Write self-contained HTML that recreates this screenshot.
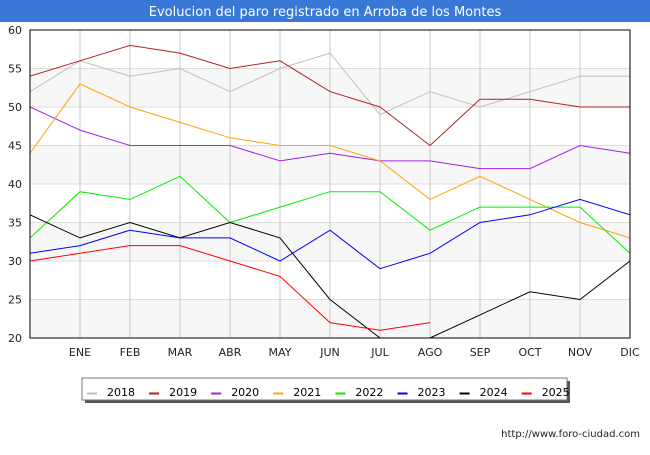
<!DOCTYPE html>
<html><head><meta charset="utf-8"><style>
body{margin:0;background:#fff;font-family:"Liberation Sans","DejaVu Sans",sans-serif}
svg text{font-family:"DejaVu Sans","Liberation Sans",sans-serif}
</style></head><body>
<svg id="chart" width="650" height="450" xmlns="http://www.w3.org/2000/svg">
<rect x="0" y="0" width="650" height="450" fill="#fff"/>
<rect x="0" y="0" width="650" height="22" fill="#3a78d8"/>
<text x="325" y="16" text-anchor="middle" fill="#fff" font-size="13">Evolucion del paro registrado en Arroba de los Montes</text>
<g id="plot"></g>
<text x="640" y="437" text-anchor="end" font-size="10" fill="#222">http://www.foro-ciudad.com</text>
</svg>
<script>
const months=["","ENE","FEB","MAR","ABR","MAY","JUN","JUL","AGO","SEP","OCT","NOV","DIC"];
const yTicks=[20,25,30,35,40,45,50,55,60];
const years=["2018","2019","2020","2021","2022","2023","2024","2025"];
const colors=["#c0c0c0","#b22222","#a020f0","#ffa500","#00ee00","#0000ff","#000000","#ff0000"];
const s2018=[52,56,54,55,52,55,57,49,52,50,52,54,54];
const s2019=[54,56,58,57,55,56,52,50,45,51,51,50,50];
const s2020=[50,47,45,45,45,43,44,43,43,42,42,45,44];
const s2021=[44,53,50,48,46,45,45,43,38,41,38,35,33];
const s2022=[33,39,38,41,35,37,39,39,34,37,37,37,31];
const s2023=[31,32,34,33,33,30,34,29,31,35,36,38,36];
const s2024=[36,33,35,33,35,33,25,20,20,23,26,25,30];
const s2025=[30,31,32,32,30,28,22,21,22];
const series=[s2018,s2019,s2020,s2021,s2022,s2023,s2024,s2025];
const X0=30,X1=630,Y0=30,Y1=338,YMIN=20,YMAX=60;
const xs=i=>X0+i*(X1-X0)/12;
const ys=v=>Y1-(v-YMIN)*(Y1-Y0)/(YMAX-YMIN);
const NS="http://www.w3.org/2000/svg";
const g=document.getElementById('plot');
function mk(t,a){const e=document.createElementNS(NS,t);for(const k in a)e.setAttribute(k,a[k]);g.appendChild(e);return e;}
// bands
for(let i=0;i<yTicks.length-1;i+=2){
 const b=mk('rect',{x:X0,y:ys(yTicks[i+1]),width:X1-X0,height:ys(yTicks[i])-ys(yTicks[i+1]),fill:'#f7f7f7'});
 
 
}
yTicks.forEach(v=>{
 const l=mk('line',{x1:X0,x2:X1,y1:ys(v),y2:ys(v),stroke:'#ddd','stroke-width':1});
 
 
 const t=mk('text',{x:X0-8,y:ys(v)+4,'text-anchor':'end','font-size':11,fill:'#222'});
 t.textContent=v;
 
 
});
months.forEach((m,i)=>{
 if(i>0&&i<12){const l=mk('line',{x1:xs(i),x2:xs(i),y1:Y0,y2:Y1,stroke:'#c8c8c8','stroke-width':1});
 
 }
 if(m){const t=mk('text',{x:xs(i),y:Y1+18,'text-anchor':'middle','font-size':11,fill:'#222'});
 t.textContent=m;
 
 }
});
const defs=mk('defs',{});
const cp=document.createElementNS(NS,'clipPath');cp.setAttribute('id','clip');
const cr=document.createElementNS(NS,'rect');cr.setAttribute('x',X0);cr.setAttribute('y',Y0);cr.setAttribute('width',X1-X0);cr.setAttribute('height',Y1-Y0);
cp.appendChild(cr);defs.appendChild(cp);
series.forEach((s,k)=>{
 const p=mk('polyline',{points:s.map((v,i)=>xs(i)+','+ys(v)).join(' '),fill:'none',stroke:colors[k],'stroke-width':1,'clip-path':'url(#clip)'});
 
 
});
const fr=mk('rect',{x:X0,y:Y0,width:X1-X0,height:Y1-Y0,fill:'none',stroke:'#000','stroke-width':1});


// legend
const sh=mk('rect',{x:85,y:381,width:485,height:22,fill:'#555'});


const lb=mk('rect',{x:82,y:378,width:485,height:22,fill:'#fff',stroke:'#777','stroke-width':1});


years.forEach((y,k)=>{
 const x=87+k*62.1;
 const sw=mk('line',{x1:x,x2:x+10,y1:393.5,y2:393.5,stroke:colors[k],'stroke-width':2});
 
 
 const t=mk('text',{x:x+20,y:396,'font-size':11,fill:'#000'});
 t.textContent=y;
 
 
});
</script>
</body></html>
